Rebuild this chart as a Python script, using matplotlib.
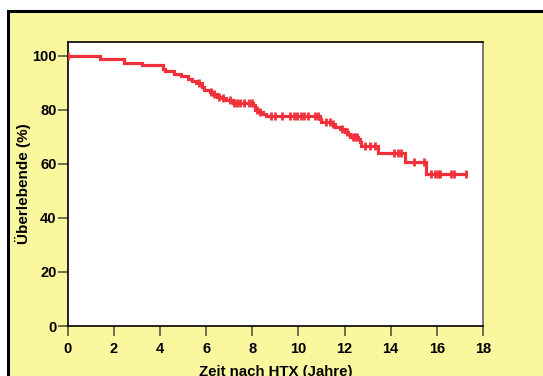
import numpy as np
import matplotlib
matplotlib.use("Agg")
import matplotlib.pyplot as plt
from matplotlib.patches import Rectangle

# DATA
# step times (years) and survival (%) after each step
step_times = [0, 1.40, 2.44, 3.23, 4.11, 4.20, 4.60, 4.93, 5.22, 5.40, 5.58, 5.80, 5.90,
              6.16, 6.30, 6.45, 6.67, 6.88, 7.17, 8.04, 8.11, 8.25, 8.47, 8.61,
              10.92, 11.00, 11.43, 11.57, 11.79, 12.00, 12.15, 12.22, 12.58, 12.65,
              12.73, 13.45, 14.60, 15.54]
survival = [100, 98.9, 97.3, 96.4, 95.2, 94.2, 93.3, 92.4, 91.5, 90.8, 90.0, 88.3, 87.3,
            86.6, 85.8, 84.9, 84.2, 83.5, 82.7, 81.7, 80.0, 79.2, 78.4, 77.7,
            76.6, 75.5, 74.6, 73.6, 72.8, 71.9, 70.9, 70.1, 69.1, 68.0,
            66.6, 63.9, 60.8, 56.2]
end_time = 17.27
censored = [0.0, 5.7, 6.2, 6.35, 6.55, 6.75, 7.05, 7.2, 7.35, 7.45, 7.65, 7.85, 8.0,
            8.2, 8.35, 8.8, 9.0, 9.3, 9.65, 9.8, 9.95, 10.1, 10.25, 10.4, 10.7, 10.85,
            11.2, 11.35, 11.5, 11.9, 12.1, 12.35, 12.45, 12.55, 12.9, 13.1, 13.3,
            14.15, 14.3, 14.45, 15.0, 15.45, 15.75, 15.9, 16.05, 16.15, 16.6, 16.75,
            17.27]

xticks = [0, 2, 4, 6, 8, 10, 12, 14, 16, 18]
yticks = [0, 20, 40, 60, 80, 100]

# COLOURS
yellow = '#faf79f'
red = '#f0313c'

plt.rcParams['font.family'] = ['Liberation Sans', 'DejaVu Sans']

fig = plt.figure(figsize=(5.43, 3.76), dpi=100)
fig.patch.set_facecolor('white')

# yellow panel with black border (runs off the right and bottom edges)
W, H = 543, 376
panel = Rectangle((7.5 / W, -0.1), 1.2, (H - 11) / H + 0.1, transform=fig.transFigure,
                  facecolor=yellow, edgecolor='black', linewidth=2.2, zorder=-10)
fig.patches.append(panel)

ax = fig.add_axes([67.7 / W, 50 / H, (483 - 67.7) / W, (326 - 41.7) / H])
ax.set_facecolor('white')

# Kaplan-Meier step curve
xs = list(step_times) + [end_time]
ys = list(survival) + [survival[-1]]
ax.step(xs, ys, where='post', color=red, linewidth=2.3, solid_joinstyle='miter', zorder=3)

# censor marks placed on the curve
idx = np.searchsorted(step_times, censored, side='right') - 1
cens_y = [survival[i] for i in idx]
ax.plot(censored, cens_y, linestyle='none', marker='|', markersize=5.5, markeredgewidth=2,
        color=red, zorder=4)

ax.set_xlim(0, 18)
ax.set_ylim(0, 105.2)
ax.set_xticks(xticks)
ax.set_yticks(yticks)

for side in ['top', 'right', 'left', 'bottom']:
    ax.spines[side].set_linewidth(1.2)
    ax.spines[side].set_color('black')
ax.spines['right'].set_color('#666666')

ax.tick_params(axis='both', direction='out', length=7.5, width=1.2, color='#555544',
               labelsize=10.5)
ax.tick_params(axis='y', pad=0.5)
ax.tick_params(axis='x', pad=4)
for lbl in ax.get_xticklabels() + ax.get_yticklabels():
    lbl.set_fontweight('bold')

ax.set_ylabel('Überlebende (%)', fontsize=11, fontweight='bold', labelpad=1)
ax.set_xlabel('Zeit nach HTX (Jahre)', fontsize=10.8, fontweight='bold', labelpad=6.5)

fig.savefig('out.png', dpi=100, facecolor=fig.get_facecolor())
